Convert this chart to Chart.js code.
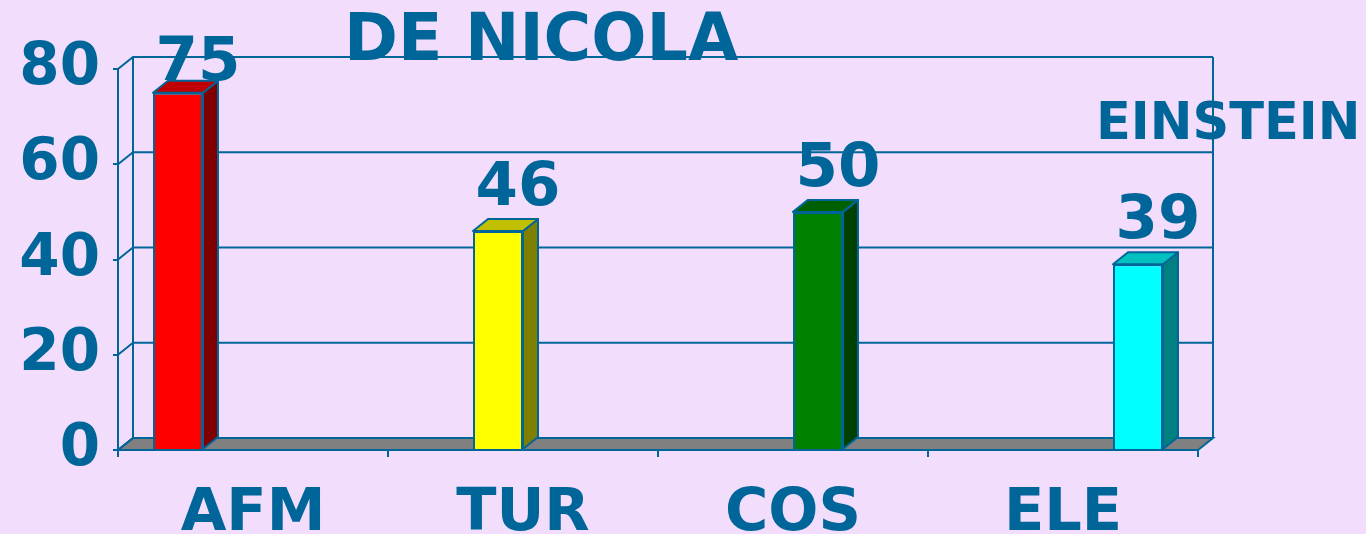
<!DOCTYPE html>
<html>
<head>
<meta charset="utf-8">
<script src="https://cdn.jsdelivr.net/npm/chart.js@4"></script>
<style>
  body { margin: 0; background: #F2DEFC; }
  #wrap { width: 1366px; height: 534px; }
</style>
</head>
<body>
<div id="wrap"><canvas id="chart" width="1366" height="534"></canvas></div>
<script>
// data
const categories = ['AFM', 'TUR', 'COS', 'ELE'];
const values = [75, 46, 50, 39];
const yTicks = [0, 20, 40, 60, 80];

const frontColors = ['#FF0000', '#FFFF00', '#008000', '#00FFFF'];
const sideColors = ['#800000', '#808000', '#004000', '#008080'];
const topColors = ['#C00000', '#C0C000', '#006000', '#00C0C0'];

const ink = '#006699';
const font = 'DejaVu Sans';
const depthX = 15;
const depthY = -12;

// one dataset per school, only its own category filled
const datasets = categories.map((c, i) => ({
    label: c,
    data: categories.map((_, j) => j === i ? values[i] : null),
    backgroundColor: frontColors[i],
    borderColor: ink,
    borderWidth: 2
}));

// back wall, left wall and floor
const wallsPlugin = {
    id: 'walls',
    beforeDraw(chart) {
        const ctx = chart.ctx;
        const area = chart.chartArea;
        const y = chart.scales.y;
        ctx.save();
        ctx.strokeStyle = ink;
        ctx.lineWidth = 2;

        // floor
        const b = y.getPixelForValue(0);
        ctx.fillStyle = '#808080';
        ctx.beginPath();
        ctx.moveTo(area.left, b);
        ctx.lineTo(area.right, b);
        ctx.lineTo(area.right + depthX, b + depthY);
        ctx.lineTo(area.left + depthX, b + depthY);
        ctx.closePath();
        ctx.fill();
        ctx.stroke();

        // gridlines on back wall + left wall diagonals
        yTicks.forEach(v => {
            const py = y.getPixelForValue(v);
            ctx.beginPath();
            ctx.moveTo(area.left, py);
            ctx.lineTo(area.left + depthX, py + depthY);
            ctx.lineTo(area.right + depthX, py + depthY);
            ctx.stroke();
        });

        // back wall verticals
        const top = y.getPixelForValue(80);
        ctx.beginPath();
        ctx.moveTo(area.left + depthX, top + depthY);
        ctx.lineTo(area.left + depthX, b + depthY);
        ctx.moveTo(area.right + depthX, top + depthY);
        ctx.lineTo(area.right + depthX, b + depthY);
        ctx.stroke();
        ctx.restore();
    },
    afterDatasetsDraw(chart) {
        const ctx = chart.ctx;
        ctx.save();
        ctx.strokeStyle = ink;
        ctx.lineWidth = 2;
        ctx.lineJoin = 'round';
        chart.data.datasets.forEach((ds, i) => {
            const meta = chart.getDatasetMeta(i);
            meta.data.forEach((bar, j) => {
                if (ds.data[j] === null) return;
                const l = bar.x - bar.width / 2;
                const r = bar.x + bar.width / 2;
                // side face
                ctx.fillStyle = sideColors[i];
                ctx.beginPath();
                ctx.moveTo(r, bar.y);
                ctx.lineTo(r + depthX, bar.y + depthY);
                ctx.lineTo(r + depthX, bar.base + depthY);
                ctx.lineTo(r, bar.base);
                ctx.closePath();
                ctx.fill();
                ctx.stroke();
                // top face
                ctx.fillStyle = topColors[i];
                ctx.beginPath();
                ctx.moveTo(l, bar.y);
                ctx.lineTo(l + depthX, bar.y + depthY);
                ctx.lineTo(r + depthX, bar.y + depthY);
                ctx.lineTo(r, bar.y);
                ctx.closePath();
                ctx.fill();
                ctx.stroke();
                // value label, kept inside the top of the canvas
                ctx.fillStyle = ink;
                ctx.font = 'bold 61px "' + font + '"';
                ctx.textAlign = 'center';
                ctx.textBaseline = 'alphabetic';
                ctx.fillText(String(ds.data[j]), bar.x + 20, Math.max(bar.y - 26, 80));
            });
        });

        // titles
        ctx.fillStyle = ink;
        ctx.textAlign = 'left';
        ctx.font = 'bold 65px "' + font + '"';
        ctx.fillText('DE NICOLA', 344, 60);
        ctx.font = 'bold 51px "' + font + '"';
        ctx.fillText('EINSTEIN', 1096, 139);
        ctx.restore();
    }
};

new Chart(document.getElementById('chart'), {
    type: 'bar',
    data: { labels: categories, datasets: datasets },
    options: {
        responsive: false,
        animation: false,
        layout: { padding: { top: 69, right: 168, left: 0, bottom: 0 } },
        datasets: {
            bar: { categoryPercentage: 200 / 270, barPercentage: 1 }
        },
        scales: {
            x: {
                afterFit: s => { s.height = 84; },
                grid: { drawOnChartArea: false, drawTicks: true, tickLength: 7, color: ink, lineWidth: 2 },
                border: { display: false },
                ticks: { color: ink, padding: 22, font: { family: font, size: 59, weight: 'bold' } }
            },
            y: {
                min: 0,
                max: 80,
                afterFit: s => { s.width = 118; },
                afterBuildTicks: s => { s.ticks = yTicks.map(v => ({ value: v })); },
                grid: { drawOnChartArea: false, drawTicks: true, tickLength: 5, color: ink, lineWidth: 2 },
                border: { display: true, color: ink, width: 2 },
                ticks: { color: ink, padding: 13, font: { family: font, size: 58, weight: 'bold' } }
            }
        },
        plugins: {
            legend: { display: false },
            tooltip: { enabled: false }
        }
    },
    plugins: [wallsPlugin]
});
</script>
</body>
</html>
